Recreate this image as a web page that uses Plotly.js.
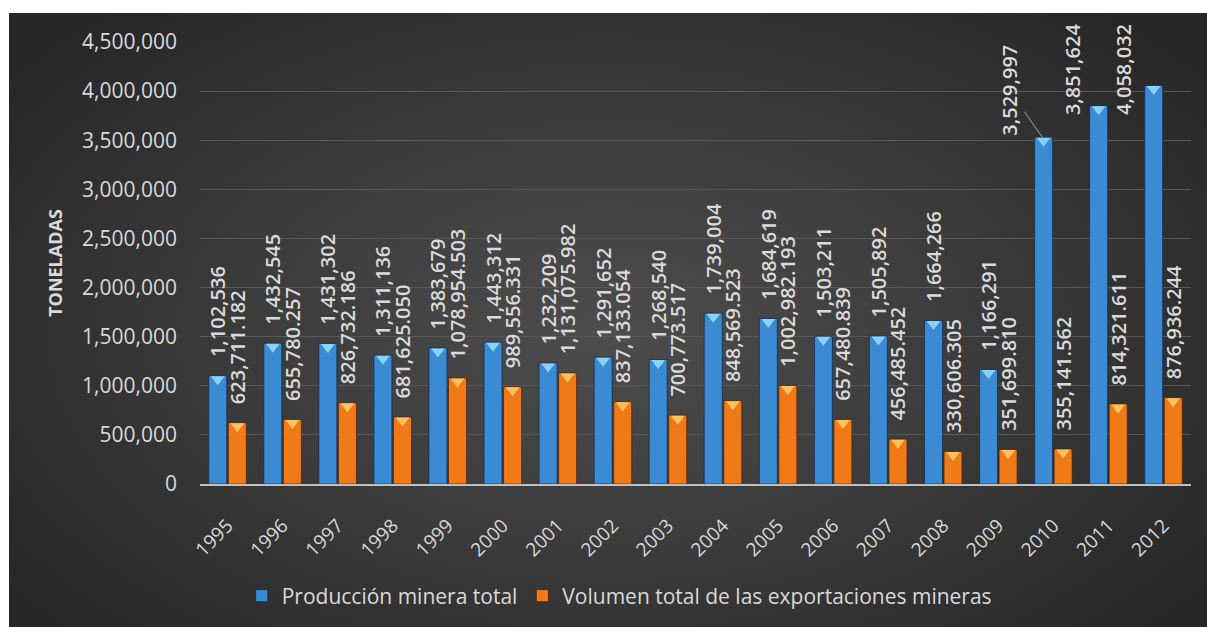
<!DOCTYPE html>
<html>
<head>
<meta charset="utf-8">
<script src="https://cdn.plot.ly/plotly-3.0.1.min.js"></script>
<style>
  html, body { margin: 0; padding: 0; background: #ffffff; width: 1207px; height: 627px; overflow: hidden; }
  #bg { position: absolute; left: 9px; top: 13px; width: 1198px; height: 614px;
        background: radial-gradient(ellipse 62% 70% at 50% 52%, #4d4d4d 0%, #3d3d3d 45%, #272727 100%); }
  #chart { position: absolute; left: 0; top: 0; width: 1207px; height: 627px; }
</style>
</head>
<body>
<div id="bg"></div>
<div id="chart"></div>
<script>
// ---- data ----
const years = ['1995','1996','1997','1998','1999','2000','2001','2002','2003','2004','2005','2006','2007','2008','2009','2010','2011','2012'];
const produccion = [1102536,1432545,1431302,1311136,1383679,1443312,1232209,1291652,1268540,1739004,1684619,1503211,1505892,1664266,1166291,3529997,3851624,4058032];
const exportaciones = [623711.182,655780.257,826732.186,681625.050,1078954.503,989556.331,1131075.982,837133.054,700773.517,848569.523,1002982.193,657480.839,456485.452,330606.305,351699.810,355141.562,814321.611,876936.244];
const seriesNames = ['Producción minera total', 'Volumen total de las exportaciones mineras'];
const yTicks = [0,500000,1000000,1500000,2000000,2500000,3000000,3500000,4000000,4500000];
const yTickText = ['0','500,000','1,000,000','1,500,000','2,000,000','2,500,000','3,000,000','3,500,000','4,000,000','4,500,000'];

// ---- formatting ----
const fmtInt = v => Math.round(v).toLocaleString('en-US');
const fmtDec = v => v.toLocaleString('en-US', {minimumFractionDigits: 3, maximumFractionDigits: 3});
const pad = '\u00a0\u00a0\u00a0';

// labels moved by hand (callouts) for the tallest production bars
const callouts = {
  '2010': {xshift: -11, ax: -33, ay: -47, arrow: true},
  '2011': {xshift: -36, yshift: 36, arrow: false},
  '2012': {xshift: -40, yshift: 16, arrow: false}
};

const labelColor = '#d9d9d9';
const fontFam = '"Open Sans", "Noto Sans", sans-serif';
const W = 1207, H = 627;
const M = {l: 200, r: 16, t: 42, b: 143};
const yMax = 4500000;
const triSize = 12;
const unitsPerPx = yMax / (H - M.t - M.b);
const triShift = (triSize / 4 + 0.5) * unitsPerPx;

const prodText = produccion.map((v, i) => callouts[years[i]] ? '' : pad + fmtInt(v));
const expText = exportaciones.map(v => pad + fmtDec(v));

const labelFont = {family: fontFam, size: 20, color: labelColor, weight: 600};

const traces = [
  {
    type: 'bar', name: seriesNames[0], x: years, y: produccion,
    marker: {color: '#3a8ad4', line: {color: 'rgba(15,40,75,0.7)', width: 1}},
    text: prodText, textposition: 'outside', textangle: -90, constraintext: 'none',
    cliponaxis: false, textfont: labelFont, hoverinfo: 'x+y'
  },
  {
    type: 'bar', name: seriesNames[1], x: years, y: exportaciones,
    marker: {color: '#f07a18', line: {color: 'rgba(80,30,0,0.7)', width: 1}},
    text: expText, textposition: 'outside', textangle: -90, constraintext: 'none',
    cliponaxis: false, textfont: labelFont, hoverinfo: 'x+y'
  },
  {
    type: 'scatter', mode: 'markers', x: years, y: produccion, yaxis: 'y2',
    marker: {symbol: 'triangle-down', size: triSize, color: '#86d3f8', line: {width: 0}},
    showlegend: false, hoverinfo: 'skip'
  },
  {
    type: 'scatter', mode: 'markers', x: years, y: exportaciones, yaxis: 'y2',
    marker: {symbol: 'triangle-down', size: triSize, color: '#ffc25c', line: {width: 0}},
    showlegend: false, hoverinfo: 'skip'
  }
];

const annotations = years.map((yr, i) => {
  const c = callouts[yr];
  if (!c) return null;
  const a = {
    x: i, y: produccion[i], xref: 'x', yref: 'y',
    text: fmtInt(produccion[i]), textangle: -90,
    font: labelFont, xshift: c.xshift
  };
  if (c.arrow) {
    Object.assign(a, {showarrow: true, ax: c.ax, ay: c.ay, arrowhead: 0, arrowwidth: 1, arrowcolor: '#a6a6a6', standoff: 0});
  } else {
    Object.assign(a, {showarrow: false, yshift: c.yshift, xanchor: 'center', yanchor: 'middle'});
  }
  return a;
}).filter(Boolean);

const layout = {
  width: W, height: H,
  margin: M,
  paper_bgcolor: 'rgba(0,0,0,0)',
  plot_bgcolor: 'rgba(0,0,0,0)',
  font: {family: fontFam, color: labelColor},
  barmode: 'group', bargap: 0.29, bargroupgap: 0.08,
  scattermode: 'group', scattergap: 0.29,
  showlegend: true,
  legend: {
    orientation: 'h', xref: 'container', yref: 'container',
    x: 0.513, xanchor: 'center', y: 1 - 596 / H, yanchor: 'middle',
    font: {family: fontFam, size: 21, color: labelColor},
    bgcolor: 'rgba(0,0,0,0)', itemwidth: 30, traceorder: 'normal'
  },
  xaxis: {
    type: 'category', categoryorder: 'array', categoryarray: years,
    range: [-0.5, years.length - 0.5], autorange: false,
    tickangle: -45, ticklabelstandoff: 21,
    tickfont: {family: fontFam, size: 19, color: labelColor},
    showgrid: false, showline: true, linecolor: '#bfbfbf', linewidth: 2,
    ticks: '', zeroline: false, fixedrange: true
  },
  yaxis: {
    range: [0, yMax], autorange: false, tickvals: yTicks, ticktext: yTickText,
    tickfont: {family: fontFam, size: 21, color: labelColor},
    ticklabelstandoff: 22,
    showgrid: true, gridcolor: '#585858', gridwidth: 1,
    zeroline: false, showline: false, ticks: '',
    title: {text: '<b>TONELADAS</b>', font: {family: fontFam, size: 18, color: labelColor}, standoff: 14},
    fixedrange: true
  },
  yaxis2: {
    overlaying: 'y', range: [triShift, yMax + triShift], autorange: false,
    visible: false, fixedrange: true
  },
  annotations: annotations
};

Plotly.newPlot('chart', traces, layout, {displayModeBar: false, staticPlot: true});
</script>
</body>
</html>
